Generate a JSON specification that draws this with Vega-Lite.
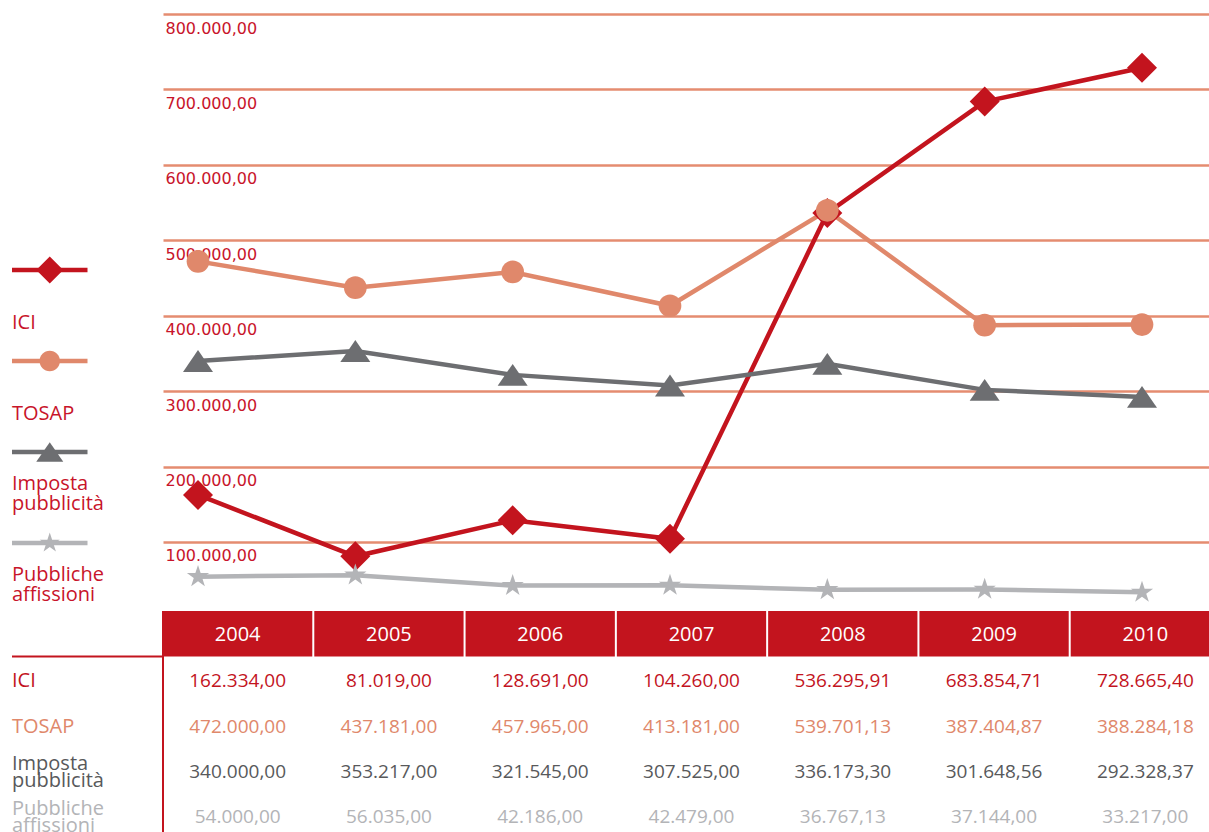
{
  "$schema": "https://vega.github.io/schema/vega-lite/v6.json",
  "padding": {"left": 9, "top": 14, "right": 0, "bottom": 0},
  "background": "white",
  "bounds": "flush",
  "spacing": 0,
  "columns": 2,
  "config": {
    "view": {"stroke": null},
    "font": "Open Sans",
    "locale": {"number": {"decimal": ",", "thousands": ".", "grouping": [3], "currency": ["€", ""]}}
  },
  "resolve": {"scale": {"x": "independent", "y": "independent", "color": "independent", "shape": "independent"}},
  "datasets": {
    "vals": [
      {"series": "ICI", "year": 2004, "value": 162334.00},
      {"series": "ICI", "year": 2005, "value": 81019.00},
      {"series": "ICI", "year": 2006, "value": 128691.00},
      {"series": "ICI", "year": 2007, "value": 104260.00},
      {"series": "ICI", "year": 2008, "value": 536295.91},
      {"series": "ICI", "year": 2009, "value": 683854.71},
      {"series": "ICI", "year": 2010, "value": 728665.40},
      {"series": "TOSAP", "year": 2004, "value": 472000.00},
      {"series": "TOSAP", "year": 2005, "value": 437181.00},
      {"series": "TOSAP", "year": 2006, "value": 457965.00},
      {"series": "TOSAP", "year": 2007, "value": 413181.00},
      {"series": "TOSAP", "year": 2008, "value": 539701.13},
      {"series": "TOSAP", "year": 2009, "value": 387404.87},
      {"series": "TOSAP", "year": 2010, "value": 388284.18},
      {"series": "Imposta", "year": 2004, "value": 340000.00},
      {"series": "Imposta", "year": 2005, "value": 353217.00},
      {"series": "Imposta", "year": 2006, "value": 321545.00},
      {"series": "Imposta", "year": 2007, "value": 307525.00},
      {"series": "Imposta", "year": 2008, "value": 336173.30},
      {"series": "Imposta", "year": 2009, "value": 301648.56},
      {"series": "Imposta", "year": 2010, "value": 292328.37},
      {"series": "Pubbliche", "year": 2004, "value": 54000.00},
      {"series": "Pubbliche", "year": 2005, "value": 56035.00},
      {"series": "Pubbliche", "year": 2006, "value": 42186.00},
      {"series": "Pubbliche", "year": 2007, "value": 42479.00},
      {"series": "Pubbliche", "year": 2008, "value": 36767.13},
      {"series": "Pubbliche", "year": 2009, "value": 37144.00},
      {"series": "Pubbliche", "year": 2010, "value": 33217.00}
    ],
    "series": [
      {"series": "ICI", "name": "ICI", "order": 1, "lines": 1},
      {"series": "TOSAP", "name": "TOSAP", "order": 2, "lines": 1},
      {"series": "Imposta", "name": "Imposta\npubblicità", "order": 3, "lines": 2},
      {"series": "Pubbliche", "name": "Pubbliche\naffissioni", "order": 4, "lines": 2}
    ],
    "years": [
      {"year": 2004}, {"year": 2005}, {"year": 2006}, {"year": 2007},
      {"year": 2008}, {"year": 2009}, {"year": 2010}
    ]
  },
  "concat": [
    {
      "width": 151,
      "height": 597,
      "data": {"name": "series"},
      "layer": [
        {
          "mark": {"type": "rule", "strokeWidth": 4.5},
          "encoding": {
            "x": {"datum": 0, "type": "quantitative", "scale": {"domain": [0, 4], "nice": false}, "axis": null},
            "x2": {"datum": 2},
            "y": {"field": "order", "type": "quantitative", "scale": {"domain": [-1.813, 4.747], "reverse": true, "nice": false, "zero": false}, "axis": null},
            "color": {"field": "series", "type": "nominal", "scale": {"domain": ["ICI", "TOSAP", "Imposta", "Pubbliche"], "range": ["#C3141E", "#E0886B", "#6D6E71", "#B3B4B7"]}, "legend": null}
          }
        },
        {
          "mark": {"type": "point", "filled": true, "opacity": 1, "size": 729, "strokeWidth": 0},
          "encoding": {
            "x": {"datum": 1, "type": "quantitative"},
            "y": {"field": "order", "type": "quantitative"},
            "color": {"field": "series", "type": "nominal", "legend": null},
            "shape": {"field": "series", "type": "nominal", "legend": null, "scale": {"domain": ["ICI", "TOSAP", "Imposta", "Pubbliche"], "range": ["M-1,0L0,-1L1,0L0,1Z", "M-0.757,0A0.757,0.757,0,1,1,0.757,0A0.757,0.757,0,1,1,-0.757,0Z", "M0,-0.73L1,0.73L-1,0.73Z", "M0,-0.78L0.175,-0.241L0.742,-0.241L0.283,0.092L0.458,0.631L0,0.298L-0.458,0.631L-0.283,0.092L-0.742,-0.241L-0.175,-0.241Z"]}}
          }
        },
        {
          "transform": [{"filter": "datum.lines == 1"}],
          "mark": {"type": "text", "align": "left", "baseline": "alphabetic", "dy": 59, "lineBreak": "\n", "lineHeight": 20, "fontSize": 20, "color": "#C8142A", "font": "Open Sans"},
          "encoding": {
            "x": {"datum": 0, "type": "quantitative"},
            "y": {"field": "order", "type": "quantitative"},
            "text": {"field": "name", "type": "nominal"}
          }
        },
        {
          "transform": [{"filter": "datum.lines == 2"}],
          "mark": {"type": "text", "align": "left", "baseline": "alphabetic", "dy": 38, "lineBreak": "\n", "lineHeight": 20, "fontSize": 20, "color": "#C8142A", "font": "Open Sans"},
          "encoding": {
            "x": {"datum": 0, "type": "quantitative"},
            "y": {"field": "order", "type": "quantitative"},
            "text": {"field": "name", "type": "nominal"}
          }
        }
      ]
    },
    {
      "width": 1046,
      "height": 597,
      "data": {"name": "vals"},
      "encoding": {
        "x": {"field": "year", "type": "quantitative", "scale": {"domain": [2003.7775, 2010.4259], "nice": false, "zero": false}, "axis": null},
        "y": {
          "field": "value", "type": "quantitative",
          "scale": {"domain": [8485, 800000], "nice": false, "zero": false},
          "axis": {
            "values": [100000, 200000, 300000, 400000, 500000, 600000, 700000, 800000],
            "format": ",.2f",
            "title": null,
            "domain": false,
            "ticks": false,
            "tickSize": 0,
            "labelAlign": "left",
            "labelBaseline": "alphabetic",
            "labelPadding": -2,
            "labelOffset": 19,
            "labelColor": "#C8142A",
            "labelFont": "DejaVu Sans",
            "labelFontSize": 16,
            "labelFlush": false,
            "labelOverlap": false,
            "grid": true,
            "gridColor": "#E58C70",
            "gridWidth": 2.5,
            "gridOpacity": 1
          }
        },
        "color": {"field": "series", "type": "nominal", "scale": {"domain": ["ICI", "TOSAP", "Imposta", "Pubbliche"], "range": ["#C3141E", "#E0886B", "#6D6E71", "#B3B4B7"]}, "legend": null}
      },
      "layer": [
        {"mark": {"type": "line", "strokeWidth": 4.5}},
        {
          "mark": {"type": "point", "filled": true, "opacity": 1, "size": 900, "strokeWidth": 0},
          "encoding": {
            "shape": {"field": "series", "type": "nominal", "legend": null, "scale": {"domain": ["ICI", "TOSAP", "Imposta", "Pubbliche"], "range": ["M-1,0L0,-1L1,0L0,1Z", "M-0.757,0A0.757,0.757,0,1,1,0.757,0A0.757,0.757,0,1,1,-0.757,0Z", "M0,-0.73L1,0.73L-1,0.73Z", "M0,-0.78L0.175,-0.241L0.742,-0.241L0.283,0.092L0.458,0.631L0,0.298L-0.458,0.631L-0.283,0.092L-0.742,-0.241L-0.175,-0.241Z"]}}
          }
        }
      ]
    },
    {
      "width": 151,
      "height": 227,
      "data": {"name": "series"},
      "layer": [
        {
          "transform": [{"filter": "datum.lines == 1"}],
          "mark": {"type": "text", "align": "left", "baseline": "middle", "dy": 2, "lineBreak": "\n", "lineHeight": 17, "fontSize": 20, "font": "Open Sans"},
          "encoding": {
            "x": {"datum": 0, "type": "quantitative", "scale": {"domain": [0, 4], "nice": false}, "axis": null},
            "y": {"field": "series", "type": "nominal", "scale": {"domain": ["header", "ICI", "TOSAP", "Imposta", "Pubbliche"], "paddingInner": 0, "paddingOuter": 0}, "axis": null},
            "text": {"field": "name", "type": "nominal"},
            "color": {"field": "series", "type": "nominal", "scale": {"domain": ["ICI", "TOSAP", "Imposta", "Pubbliche"], "range": ["#C3141E", "#E0886B", "#58595B", "#B3B4B7"]}, "legend": null}
          }
        },
        {
          "transform": [{"filter": "datum.lines == 2"}],
          "mark": {"type": "text", "align": "left", "baseline": "middle", "dy": -6, "lineBreak": "\n", "lineHeight": 17, "fontSize": 20, "font": "Open Sans"},
          "encoding": {
            "x": {"datum": 0, "type": "quantitative"},
            "y": {"field": "series", "type": "nominal"},
            "text": {"field": "name", "type": "nominal"},
            "color": {"field": "series", "type": "nominal", "legend": null}
          }
        },
        {
          "transform": [{"filter": "datum.order == 1"}],
          "mark": {"type": "rule", "strokeWidth": 2, "color": "#C3141E"},
          "encoding": {
            "y": {"datum": "ICI", "type": "nominal", "bandPosition": 0}
          }
        },
        {
          "transform": [{"filter": "datum.order == 1"}],
          "mark": {"type": "rule", "strokeWidth": 2, "color": "#C3141E"},
          "encoding": {
            "x": {"datum": 4, "type": "quantitative"}
          }
        }
      ]
    },
    {
      "width": 1046,
      "height": 227,
      "encoding": {
        "x": {"field": "year", "type": "ordinal", "scale": {"range": [0, 1057], "paddingInner": 0.0132, "paddingOuter": 0}, "axis": null}
      },
      "layer": [
        {
          "data": {"name": "years"},
          "mark": {"type": "rect", "color": "#C3141E", "clip": true},
          "encoding": {
            "y": {"datum": "header", "type": "nominal", "scale": {"domain": ["header", "ICI", "TOSAP", "Imposta", "Pubbliche"], "paddingInner": 0, "paddingOuter": 0}, "axis": null}
          }
        },
        {
          "data": {"name": "years"},
          "mark": {"type": "text", "color": "white", "fontSize": 20, "font": "Open Sans", "baseline": "middle", "dy": 1},
          "encoding": {
            "y": {"datum": "header", "type": "nominal"},
            "text": {"field": "year", "type": "ordinal"}
          }
        },
        {
          "data": {"name": "vals"},
          "mark": {"type": "text", "fontSize": 19, "font": "Open Sans", "baseline": "middle", "dy": 2},
          "encoding": {
            "y": {"field": "series", "type": "nominal"},
            "text": {"field": "value", "type": "quantitative", "format": ",.2f"},
            "color": {"field": "series", "type": "nominal", "scale": {"domain": ["ICI", "TOSAP", "Imposta", "Pubbliche"], "range": ["#C3141E", "#E0886B", "#58595B", "#B3B4B7"]}, "legend": null}
          }
        }
      ]
    }
  ]
}
